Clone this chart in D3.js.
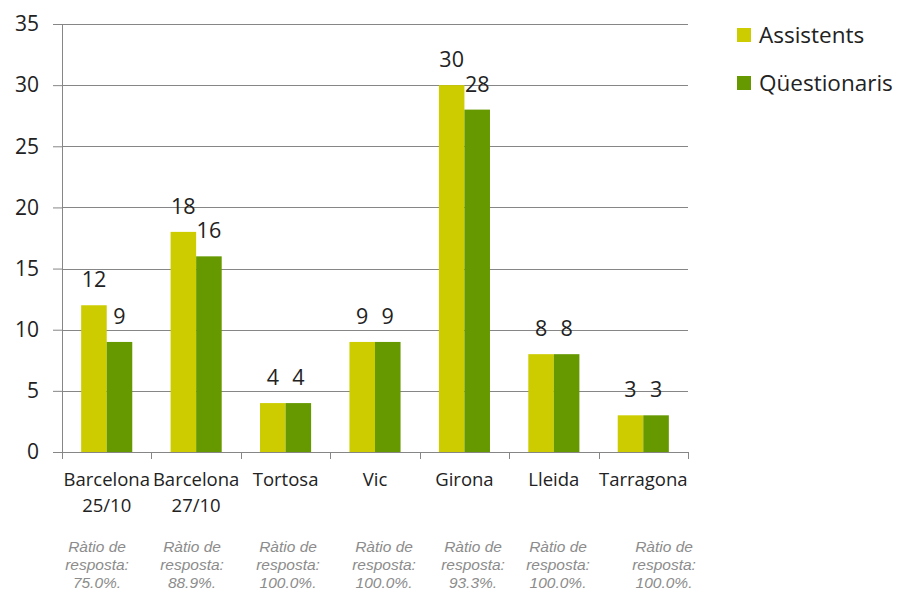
<!DOCTYPE html>
<html>
<head>
<meta charset="utf-8">
<script src="https://cdn.jsdelivr.net/npm/d3@7"></script>
<style>
  html, body { margin: 0; padding: 0; background: #fff; }
  svg { display: block; }
</style>
</head>
<body>
<svg id="chart" width="897" height="592"></svg>
<script>
// ---- Data ----
const categories = [["Barcelona", "25/10"], ["Barcelona", "27/10"], ["Tortosa"], ["Vic"], ["Girona"], ["Lleida"], ["Tarragona"]];
const seriesNames = ["Assistents", "Qüestionaris"];
const assistents = [12, 18, 4, 9, 30, 8, 3];
const questionaris = [9, 16, 4, 9, 28, 8, 3];
const yTicks = [0, 5, 10, 15, 20, 25, 30, 35];
const ratioNotes = ["75.0%.", "88.9%.", "100.0%.", "100.0%.", "93.3%.", "100.0%.", "100.0%."];

// ---- Layout ----
const colors = ["#cccc00", "#669900"];
const noteX = [97, 192, 288, 384, 473, 558, 664];
const font = "'Open Sans', sans-serif";
const gridColor = "#868686";

const svg = d3.select("#chart");
const catKeys = categories.map((c, i) => "c" + i);
const x = d3.scaleBand().domain(catKeys).range([62, 688]).paddingInner(0).paddingOuter(0);
const y = d3.scaleLinear().domain([0, 35]).range([452, 24]);
const bw = x.bandwidth() / 3.5;
const sub = d3.scaleBand().domain(seriesNames).range([0.75 * bw, 2.75 * bw]).padding(0);

// gridlines + y axis ticks
const yAxis = d3.axisLeft(y).tickValues(yTicks).tickSize(9).tickFormat(d3.format("d"));
const gy = svg.append("g").attr("transform", "translate(62,0)").call(yAxis);
gy.select(".domain").attr("stroke", gridColor);
gy.selectAll(".tick line").attr("stroke", gridColor);
gy.selectAll(".tick text").attr("font-family", font).attr("font-size", 21).attr("fill", "#222").attr("x", -23);
svg.append("g").selectAll("line").data(yTicks.filter(d => d > 0)).join("line")
  .attr("x1", 62).attr("x2", 688).attr("y1", d => Math.round(y(d)) + 0.5).attr("y2", d => Math.round(y(d)) + 0.5)
  .attr("stroke", gridColor).attr("stroke-width", 1);

// bars
const data = catKeys.map((k, i) => ({ k, vals: [assistents[i], questionaris[i]] }));
const groups = svg.append("g").selectAll("g").data(data).join("g")
  .attr("transform", d => `translate(${x(d.k)},0)`);
groups.selectAll("rect").data(d => d.vals.map((v, j) => ({ v, s: seriesNames[j], j }))).join("rect")
  .attr("x", d => sub(d.s)).attr("width", sub.bandwidth())
  .attr("y", d => y(d.v)).attr("height", d => y(0) - y(d.v))
  .attr("fill", d => colors[d.j]);
groups.selectAll("text").data(d => d.vals.map((v, j) => ({ v, s: seriesNames[j], j }))).join("text")
  .attr("x", d => sub(d.s) + sub.bandwidth() / 2).attr("y", d => y(d.v) - 18)
  .attr("text-anchor", "middle").attr("font-family", font).attr("font-size", 21.5).attr("fill", "#222")
  .text(d => d.v);

// x axis
const xAxis = d3.axisBottom(x).tickSize(0).tickFormat("");
const gx = svg.append("g").attr("transform", "translate(0,452)").call(xAxis);
gx.select(".domain").attr("stroke", gridColor);
gx.selectAll(".tick").remove();
const bounds = catKeys.map(k => x(k)).concat([x(catKeys[catKeys.length - 1]) + x.bandwidth()]);
svg.append("g").selectAll("line").data(bounds).join("line")
  .attr("x1", d => Math.round(d) + 0.5).attr("x2", d => Math.round(d) + 0.5).attr("y1", 452).attr("y2", 459)
  .attr("stroke", gridColor);

// category labels
const cl = svg.append("g").selectAll("text").data(categories).join("text")
  .attr("font-family", font).attr("font-size", 18.5).attr("fill", "#222").attr("text-anchor", "middle")
  .attr("transform", (d, i) => `translate(${x(catKeys[i]) + x.bandwidth() / 2},486)`);
cl.selectAll("tspan").data(d => d).join("tspan")
  .attr("x", 0).attr("dy", (d, i) => i === 0 ? 0 : 26).text(d => d);

// ratio notes
const notes = svg.append("g").selectAll("text").data(ratioNotes).join("text")
  .attr("font-family", "'Liberation Sans', Arial, sans-serif").attr("font-style", "italic")
  .attr("font-size", 15.5).attr("fill", "#8c8c8c").attr("text-anchor", "middle")
  .attr("transform", (d, i) => `translate(${noteX[i]},552)`);
notes.selectAll("tspan").data(d => ["Ràtio de", "resposta:", d]).join("tspan")
  .attr("x", 0).attr("dy", (d, i) => i === 0 ? 0 : 18).text(d => d);

// legend
const lg = svg.append("g").selectAll("g").data(seriesNames).join("g")
  .attr("transform", (d, i) => `translate(737,${28 + i * 48})`);
lg.append("rect").attr("width", 14).attr("height", 14).attr("fill", (d, i) => colors[i]);
lg.append("text").attr("x", 22).attr("y", 15).attr("font-family", font).attr("font-size", 22.5)
  .attr("fill", "#222").text(d => d);
</script>
</body>
</html>
